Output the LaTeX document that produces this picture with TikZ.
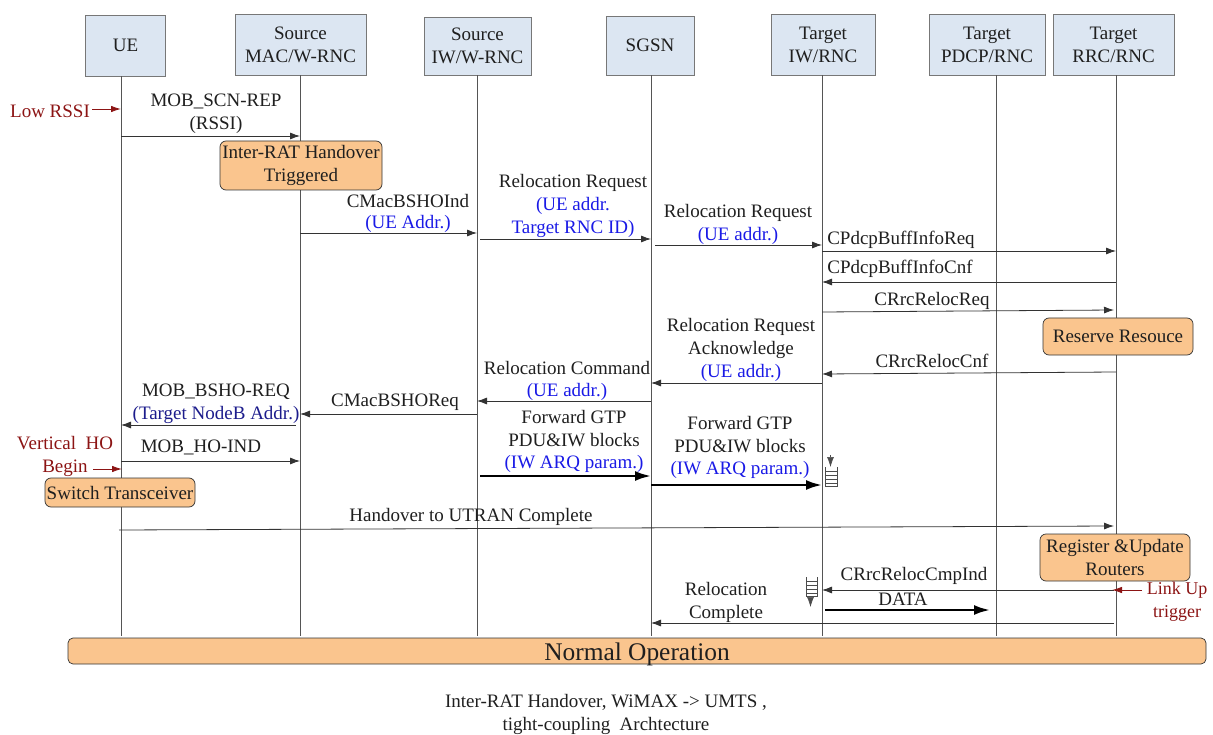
\documentclass[tikz,border=0pt]{standalone}
\usepackage{fontspec}
\setmainfont{Liberation Serif}
\usetikzlibrary{arrows.meta}
\definecolor{headfill}{HTML}{DCE6F2}
\definecolor{orangefill}{HTML}{FAC58E}
\definecolor{lbl}{HTML}{1F1F1F}
\definecolor{bluet}{HTML}{1A1AE6}
\definecolor{navyt}{HTML}{1C1C8C}
\definecolor{redt}{HTML}{8C1414}
\definecolor{linec}{HTML}{555555}
\tikzset{
 x=1pt,y=-1pt,
 txt/.style={font=\fontsize{19}{23}\selectfont,text=lbl,align=center,inner sep=0pt},
 head/.style={draw=linec!80,fill=headfill,line width=0.8pt,txt,minimum height=61pt,inner sep=0pt},
 life/.style={draw=linec,line width=1pt},
 msg/.style={draw=black!80,line width=0.8pt,-{Latex[length=10pt,width=7pt]}},
 thickmsg/.style={draw=black,line width=2.4pt,-{Latex[length=16pt,width=10pt]}},
 redmsg/.style={draw=redt,line width=0.9pt,-{Latex[length=10pt,width=6.5pt]}},
 proc/.style={draw=black!80,fill=orangefill,rounded corners=6pt,line width=0.7pt,txt},
 lab/.style={txt,yshift=-1pt},
 bl/.style={lab,text=bluet},
 nv/.style={lab,text=navyt},
 rd/.style={lab,text=redt},
 stackline/.style={draw=black!70,line width=0.6pt},
}
\begin{document}
\begin{tikzpicture}
\useasboundingbox (0,0) rectangle (1213,735);
% heads
\node[head,minimum width=80pt] (ue) at (125.5,45.5) {UE};
\node[head,minimum width=131pt] (smac) at (300.5,44.5) {Source\\MAC/W-RNC};
\node[head,minimum width=107pt,minimum height=58pt] (siw) at (477.5,46) {Source\\IW/W-RNC};
\node[head,minimum width=88pt,minimum height=59pt] (sgsn) at (650,45.5) {SGSN};
\node[head,minimum width=104pt] (tiw) at (823,44.5) {Target\\IW/RNC};
\node[head,minimum width=116pt] (tpd) at (987,44.5) {Target\\PDCP/RNC};
\node[head,minimum width=121pt] (trr) at (1113.5,44.5) {Target\\RRC/RNC};
% lifelines ends
\coordinate (eue) at (121,636);
\coordinate (esm) at (300,636);
\coordinate (esi) at (477,636);
\coordinate (esg) at (651,636);
\coordinate (eti) at (822,636);
\coordinate (etp) at (996,636);
\coordinate (etr) at (1116,636);
\draw[life] (eue |- ue.south) -- (eue);
\draw[life] (esm |- smac.south) -- (esm);
\draw[life] (esi |- siw.south) -- (esi);
\draw[life] (esg |- sgsn.south) -- (esg);
\draw[life] (eti |- tiw.south) -- (eti);
\draw[life] (etp |- tpd.south) -- (etp);
\draw[life] (etr |- trr.south) -- (etr);
% process boxes
\node[proc,minimum width=162pt,minimum height=49pt] (p1) at (301,165.5) {Inter-RAT Handover\\Triggered};
\node[proc,minimum width=150pt,minimum height=37pt] (p2) at (1118,336.5) {Reserve Resouce};
\node[proc,minimum width=150pt,minimum height=29pt] (p3) at (120,492.5) {Switch Transceiver};
\node[proc,minimum width=150pt,minimum height=47pt] (p4) at (1115,557.5) {Register \&Update\\Routers};
\node[proc,minimum width=1138pt,minimum height=26pt,font=\fontsize{25.4}{28}\selectfont,rounded corners=5pt,text depth=0pt] (p5) at (637,651) {\raisebox{-1.5pt}{Normal Operation}};
% messages
\draw[msg] (eue |- 0,136) -- (esm |- 0,136);
\draw[msg] (esm |- 0,233) -- (esi |- 0,233);
\draw[msg] (480,239) -- (esg |- 0,239);
\draw[msg] (655,245) -- (eti |- 0,245);
\draw[msg] (eti |- 0,251) -- (etr |- 0,251);
\draw[msg] (etr |- 0,282) -- (eti |- 0,282);
\draw[msg] (eti |- 0,312) -- (1114,310);
\draw[msg] (etr |- 0,372) -- (eti |- 0,374);
\draw[msg] (eti |- 0,383) -- (esg |- 0,383);
\draw[msg] (esg |- 0,401) -- (esi |- 0,401);
\draw[msg] (esi |- 0,414) -- (esm |- 0,414);
\draw[msg] (296,425) -- (eue |- 0,425);
\draw[msg] (eue |- 0,461) -- (esm |- 0,461);
\draw[thickmsg] (480,476) -- (esg |- 0,476);
\draw[thickmsg] (esg |- 0,485) -- (eti |- 0,485);
\draw[msg] (119,530) -- (1114,526);
\draw[msg] (1114,590) -- (eti |- 0,590);
\draw[thickmsg] (825,610) -- (990,610);
\draw[msg] (1114,623) -- (esg |- 0,623);
% red triggers
\draw[redmsg] (92,109) -- (eue |- 0,109);
\draw[redmsg] (93,469) -- (122,469);
\draw[redmsg] (1142,590) -- (1112,590);
% labels
\node[rd] (r1) at (50,110) {Low RSSI};
\node[rd] (r2) at (65,455) {Vertical\ \ HO\\Begin};
\node[rd,font=\fontsize{18}{23}\selectfont] (r3) at (1177,601) {Link Up\\trigger};
\node[lab] (l1) at (216,113) {MOB\_SCN-REP\\(RSSI)};
\node[lab] (l2a) at (408,200) {CMacBSHOInd};
\node[bl] (l2b) at (408,223) {(UE Addr.)};
\node[lab] (l3a) at (573,182) {Relocation Request};
\node[bl] (l3b) at (573,216.5) {(UE addr.\\Target RNC ID)};
\node[lab] (l4a) at (738,212) {Relocation Request};
\node[bl] (l4b) at (738,235) {(UE addr.)};
\node[lab] (l5) at (901,239) {CPdcpBuffInfoReq};
\node[lab] (l6) at (900,268) {CPdcpBuffInfoCnf};
\node[lab] (l7) at (932,300) {CRrcRelocReq};
\node[lab] (l8) at (932,360) {CRrcRelocCnf};
\node[lab] (l9a) at (741,337) {Relocation Request\\Acknowledge};
\node[bl] (l9b) at (741,372) {(UE addr.)};
\node[lab] (l10a) at (567,367) {Relocation Command};
\node[bl] (l10b) at (567,390.5) {(UE addr.)};
\node[lab] (l11) at (395,401) {CMacBSHOReq};
\node[lab] (l12a) at (216,391) {MOB\_BSHO-REQ};
\node[nv] (l12b) at (216,414) {(Target NodeB Addr.)};
\node[lab] (l13) at (201,446) {MOB\_HO-IND};
\node[lab] (l14a) at (574,428) {Forward GTP\\PDU\&IW blocks};
\node[bl] (l14b) at (574,463) {(IW ARQ param.)};
\node[lab] (l15a) at (740,434) {Forward GTP\\PDU\&IW blocks};
\node[bl] (l15b) at (740,469) {(IW ARQ param.)};
\node[lab] (l16) at (471,516) {Handover to UTRAN Complete};
\node[lab] (l17) at (914,575) {CRrcRelocCmpInd};
\node[lab] (l18) at (903,598) {DATA};
\node[lab] (l19) at (726,601) {Relocation\\Complete};
\node[lab] (cap) at (606,713.5) {Inter-RAT Handover, WiMAX -> UMTS ,\\tight-coupling\ \ Archtecture};
% queue icons
\draw[stackline] (825.5,467) -- (825.5,486) -- (837,486) -- (837,467);
\foreach \yy in {471,475,479,483} \draw[stackline] (825.5,\yy) -- (837,\yy);
\draw[stackline,-{Latex[length=10pt,width=7pt]}] (830.5,455) -- (830.5,467);
\draw[stackline] (806,577) -- (806,596) -- (817.5,596) -- (817.5,577);
\foreach \yy in {581,585,589,593} \draw[stackline] (806,\yy) -- (817.5,\yy);
\draw[stackline,-{Latex[length=10pt,width=7pt]}] (810.5,596) -- (810.5,607);
\end{tikzpicture}
\end{document}
